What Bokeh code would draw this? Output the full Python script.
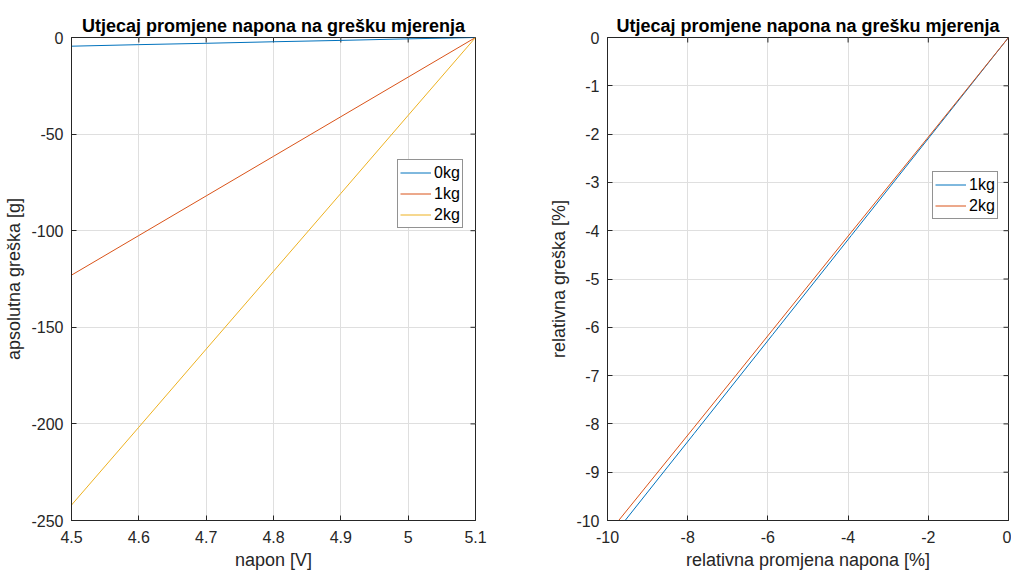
import math
from bokeh.plotting import figure
from bokeh.layouts import row
from bokeh.models import (Legend, LegendItem, FixedTicker,
                          CustomJSTickFormatter, Range1d)
from bokeh.embed import file_html
from bokeh.resources import INLINE

# ---- data ----
voltage = [4.5, 4.6, 4.7, 4.8, 4.9, 5.0, 5.1]
err_0kg = [-4.5, -3.7, -3.0, -2.2, -1.5, -0.7, 0.0]
err_1kg = [-123.0, -102.5, -82.0, -61.5, -41.0, -20.5, 0.0]
err_2kg = [-242.0, -201.7, -161.3, -121.0, -80.7, -40.3, 0.0]

rel_voltage = [-11.76, -9.80, -7.84, -5.88, -3.92, -1.96, 0.0]
rel_err_1kg = [-12.30, -10.25, -8.20, -6.15, -4.10, -2.05, 0.0]
rel_err_2kg = [-12.10, -10.08, -8.07, -6.05, -4.03, -2.02, 0.0]

left_xrange = [4.5, 5.1]
left_yrange = [-250, 0]
right_xrange = [-10, 0]
right_yrange = [-10, 0]
left_xticks = [4.5, 4.6, 4.7, 4.8, 4.9, 5.0, 5.1]
left_yticks = [-250, -200, -150, -100, -50, 0]
right_xticks = [-10, -8, -6, -4, -2, 0]
right_yticks = [-10, -9, -8, -7, -6, -5, -4, -3, -2, -1, 0]

TITLE = "Utjecaj promjene napona na grešku mjerenja"
FONT = "Liberation Sans"
AX = "#262626"
C_BLUE, C_ORANGE, C_YELLOW = "#0072BD", "#D95319", "#EDB120"

fmt_code = "return String(Math.round(tick*1000)/1000);"


def make_fig(width, xr, yr, xticks, yticks, xlabel, ylabel, bl, br):
    p = figure(width=width, height=572, output_backend="svg", toolbar_location=None,
               x_range=Range1d(*xr), y_range=Range1d(*yr), title=TITLE,
               min_border_left=bl, min_border_right=br, min_border_top=37,
               min_border_bottom=52)
    p.title.text_font = FONT
    p.title.text_font_size = "18px"
    p.title.text_font_style = "bold"
    p.title.text_color = "#000000"
    p.title.align = "center"
    p.title.standoff = 4
    p.xaxis.ticker = FixedTicker(ticks=xticks)
    p.yaxis.ticker = FixedTicker(ticks=yticks)
    for ax in (p.xaxis[0], p.yaxis[0]):
        ax.formatter = CustomJSTickFormatter(code=fmt_code)
        ax.major_tick_in = 5
        ax.major_tick_out = 0
        ax.minor_tick_line_color = None
        ax.axis_line_color = AX
        ax.major_tick_line_color = AX
        ax.major_label_text_font = FONT
        ax.major_label_text_font_size = "16px"
        ax.major_label_text_color = AX
        ax.axis_label_text_font = FONT
        ax.axis_label_text_font_size = "18px"
        ax.axis_label_text_font_style = "normal"
        ax.axis_label_text_color = AX
    p.xaxis.axis_label = xlabel
    p.yaxis.axis_label = ylabel
    p.xaxis.major_label_standoff = 10
    p.xaxis.axis_label_standoff = 4
    p.yaxis.major_label_standoff = 8
    p.yaxis.axis_label_standoff = 4
    # inward ticks on the top and right edges (box), clipped by the frame
    p.scatter(xticks, [yr[1]] * len(xticks), marker="dash", size=10,
              angle=math.pi / 2, line_color=AX, line_width=1)
    p.scatter([xr[1]] * len(yticks), yticks, marker="dash", size=10,
              angle=0, line_color=AX, line_width=1)
    p.grid.grid_line_color = "#dfdfdf"
    p.grid.grid_line_width = 1
    p.outline_line_color = AX
    p.outline_line_alpha = 1
    p.background_fill_color = "white"
    p.border_fill_color = "white"
    return p


def style_legend(lg):
    lg.border_line_color = AX
    lg.border_line_width = 1
    lg.background_fill_color = "white"
    lg.background_fill_alpha = 1
    lg.label_text_font = FONT
    lg.label_text_font_size = "16px"
    lg.label_text_color = "#000000"
    lg.glyph_width = 31
    lg.glyph_height = 21
    lg.label_height = 21
    lg.padding = 2
    lg.spacing = 0
    lg.margin = 0
    lg.label_standoff = 3


# ---- left plot ----
p1 = make_fig(546, left_xrange, left_yrange, left_xticks, left_yticks,
              "napon [V]", "apsolutna greška [g]", 71, 71)
r0 = p1.line(voltage, err_0kg, line_color=C_BLUE, line_width=1)
r1 = p1.line(voltage, err_1kg, line_color=C_ORANGE, line_width=1)
r2 = p1.line(voltage, err_2kg, line_color=C_YELLOW, line_width=1)
lg1 = Legend(items=[LegendItem(label="0kg", renderers=[r0]),
                    LegendItem(label="1kg", renderers=[r1]),
                    LegendItem(label="2kg", renderers=[r2])],
             location=(326, 292))
style_legend(lg1)
p1.add_layout(lg1)

# ---- right plot ----
p2 = make_fig(465, right_xrange, right_yrange, right_xticks, right_yticks,
              "relativna promjena napona [%]", "relativna greška [%]", 57, 3)
s1 = p2.line(rel_voltage, rel_err_1kg, line_color=C_BLUE, line_width=1)
s2 = p2.line(rel_voltage, rel_err_2kg, line_color=C_ORANGE, line_width=1)
lg2 = Legend(items=[LegendItem(label="1kg", renderers=[s1]),
                    LegendItem(label="2kg", renderers=[s2])],
             location=(325, 301))
style_legend(lg2)
p2.add_layout(lg2)

layout = row(p1, p2)
open("out.html", "w").write(file_html(layout, INLINE))
